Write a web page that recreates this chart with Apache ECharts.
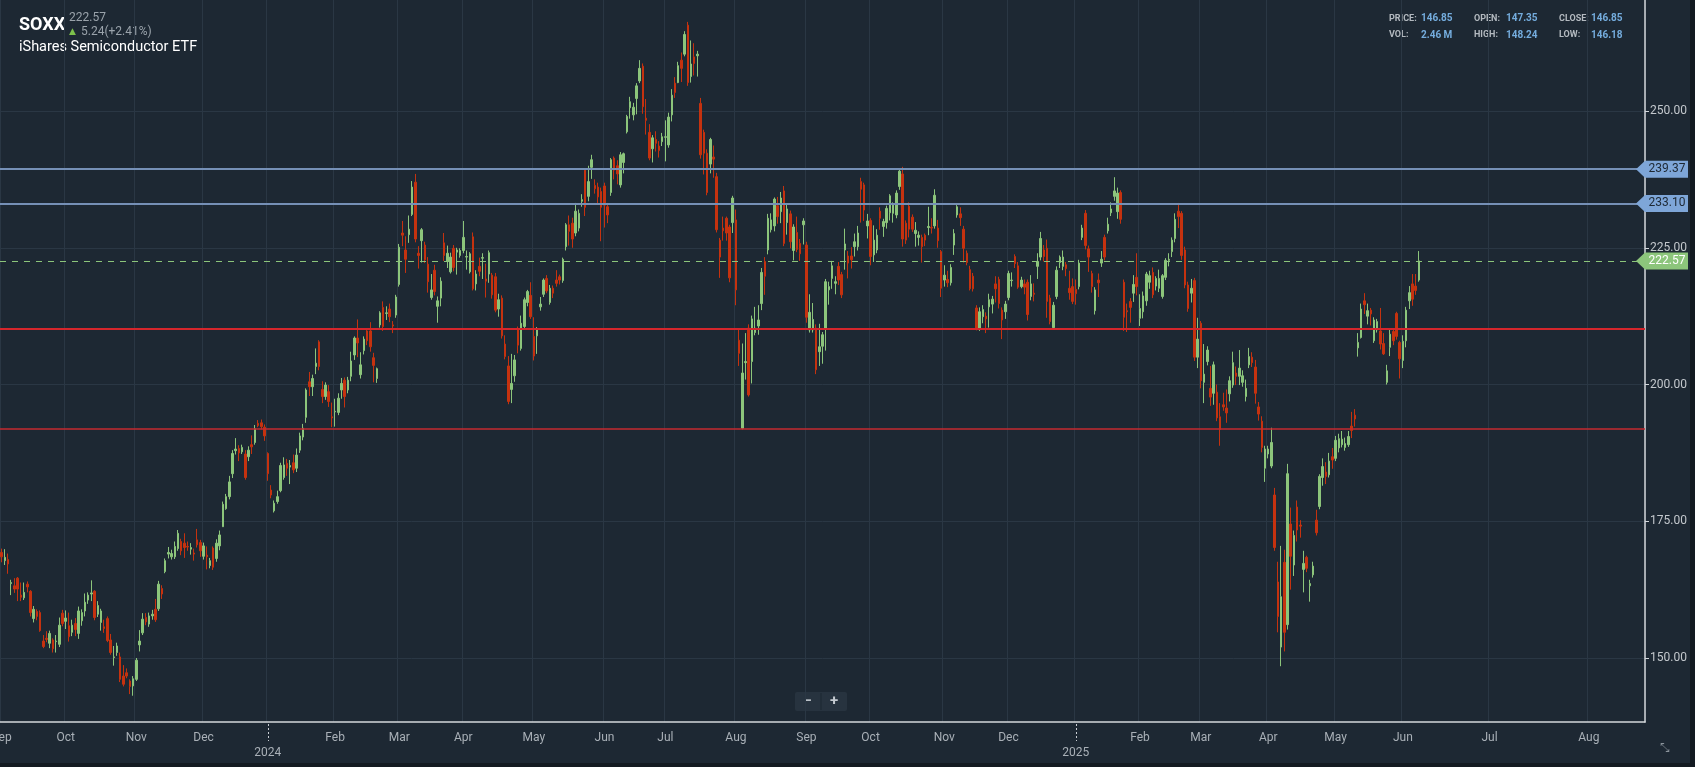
<!DOCTYPE html>
<html lang="en">

<head>
    <meta charset="UTF-8">
    <title>SOXX - iShares Semiconductor ETF</title>
    <script src="https://cdn.jsdelivr.net/npm/echarts/dist/echarts.min.js"></script>
    <style>
        html, body { margin: 0; padding: 0; background: #131a21; }
        #chart { width: 1690px; height: 763px; }
    </style>
</head>

<body>
    <div id="chart"></div>
    <script>
        // daily candles [open, close, low, high]
        const candles2023 = [
            [169.3,168.5,167.5,170.0],[167.8,168.4,167.0,169.9],[168.0,167.2,165.4,169.1],[163.6,163.8,161.5,164.3],
            [163.2,162.6,161.9,164.6],[164.6,162.6,160.4,164.8],[161.5,161.1,160.4,163.8],[161.0,162.0,160.6,163.8],
            [163.5,163.0,162.0,164.0],[162.2,158.3,157.6,162.4],[157.2,158.9,156.5,159.5],[158.5,157.6,156.9,158.9],
            [158.3,155.0,154.8,158.7],[153.1,152.1,151.8,154.2],[153.6,153.4,152.9,154.9],[152.7,154.5,151.8,155.0],
            [153.3,151.7,151.0,153.6],[153.0,153.1,151.0,154.2],[152.5,156.0,152.0,157.4],[158.2,156.3,155.8,158.8],
            [156.7,157.3,155.3,158.7],[155.9,153.9,153.0,158.3],[154.7,156.0,154.0,157.0],[156.3,155.2,154.0,157.3],
            [154.5,158.6,153.5,159.4],[156.8,158.3,155.9,158.9],[158.6,160.2,157.6,161.8],[160.6,161.5,159.9,162.0],
            [161.7,161.9,160.4,164.2],[162.2,157.4,156.9,162.4],[158.0,159.6,157.5,160.4],[156.5,158.6,155.0,159.0],
            [155.7,155.4,154.6,157.0],[157.2,153.2,152.9,157.6],[153.3,151.0,150.6,154.4],[150.1,150.2,148.6,152.2],
            [151.0,152.2,150.4,152.8],[150.2,146.1,145.6,151.0],[146.7,145.2,144.8,148.7],[147.3,146.7,146.3,148.1],
            [145.8,144.8,143.4,146.1],[144.9,146.2,143.1,146.7],[146.1,149.6,145.8,150.0],[152.4,153.1,151.2,155.1],
            [154.6,157.1,154.2,158.2],[157.4,156.6,156.0,158.2],[156.2,157.7,155.7,158.3],[157.7,158.0,157.0,158.8],
            [158.9,157.0,156.6,160.8],[159.0,163.5,158.6,164.1],[162.7,161.7,160.8,163.3],[165.8,167.8,165.5,168.2],
            [169.0,169.3,168.2,170.3],[168.5,169.1,168.0,169.8],[168.5,170.4,168.1,171.3],[170.0,172.8,169.6,173.4],
            [171.3,169.6,168.8,171.8],[171.0,170.2,168.3,172.8],[170.4,170.3,169.6,171.3],[169.9,170.2,168.9,171.0],
            [169.2,169.0,167.8,170.0],[171.6,170.7,170.2,173.6],[171.1,169.6,168.5,171.6],[168.6,170.5,168.0,171.1],
            [168.8,168.5,166.2,170.4],[166.9,167.8,166.4,168.3],[170.1,166.6,166.1,170.4],[168.2,171.0,167.6,171.7],
            [170.5,172.5,169.7,173.3],[174.0,178.1,174.0,178.6],[177.3,179.5,177.1,180.0],[179.5,182.2,179.0,183.3],
            [183.7,187.4,182.9,188.0],[187.9,188.2,187.2,190.2],[188.3,187.5,186.0,188.9],[187.7,188.5,187.3,189.0],
            [187.3,183.0,182.6,188.0],[186.8,188.0,186.0,188.7],[189.0,188.6,187.3,190.7],[189.4,191.9,189.0,192.6],
            [192.9,192.5,192.2,193.5],[193.0,192.3,191.8,193.6],[192.2,190.6,189.7,192.7]
        ];
        const candles2024 = [
            [187.4,183.7,182.4,187.6],[180.7,179.8,179.2,181.6],[176.9,178.3,176.6,178.8],[178.6,179.5,178.2,180.6],
            [180.6,185.2,180.3,185.7],[183.0,185.3,182.6,186.7],[185.6,184.7,183.3,186.4],[184.9,185.2,181.8,186.2],
            [185.7,184.4,183.8,187.2],[184.7,187.1,184.0,188.3],[188.0,190.6,187.5,191.2],[190.4,192.0,189.8,192.8],
            [194.0,199.0,193.0,199.3],[200.5,199.6,197.9,202.3],[199.6,201.1,197.9,201.8],[203.3,203.9,201.9,206.6],
            [207.8,203.3,202.6,208.1],[199.1,197.8,196.6,200.6],[197.8,199.9,197.2,200.4],[198.7,196.9,195.9,199.9],
            [194.1,193.9,192.2,196.7],[195.0,195.1,192.3,197.4],[194.9,197.5,194.4,198.4],[199.0,200.2,197.4,201.2],
            [200.8,197.8,195.8,201.3],[199.0,200.8,198.4,201.4],[201.5,204.3,200.6,206.0],[205.4,208.5,204.5,208.8],
            [208.5,207.6,205.0,211.9],[201.8,203.6,201.1,205.9],[206.2,208.3,205.5,208.8],[209.8,208.0,207.2,210.2],
            [209.8,206.9,206.0,211.4],[204.9,203.5,200.4,205.8],[201.1,202.9,200.3,203.1],[210.9,213.1,210.4,213.4],
            [214.1,210.6,209.8,215.2],[213.0,213.1,211.8,214.3],[213.8,212.4,211.4,214.8],[210.9,210.7,209.4,211.6],
            [212.7,216.0,212.2,216.4],[218.3,225.1,217.9,225.7],[227.7,227.3,225.3,229.9],[224.6,222.9,220.4,227.1],
            [227.4,228.4,225.9,230.9],[231.1,236.1,230.8,237.2],[237.0,226.6,226.0,238.5],[224.0,223.6,221.2,225.3],
            [226.3,228.3,222.3,228.6],[225.5,222.8,222.2,226.1],[222.0,218.8,216.8,223.3],[215.9,217.3,215.5,220.2],
            [220.9,217.0,216.3,221.9],[214.3,215.3,211.3,216.1],[215.8,218.9,214.3,219.6],[225.9,223.6,222.6,227.7],
            [222.5,224.0,221.3,225.4],[220.6,223.3,220.3,224.1],[224.9,221.4,220.7,225.5],[224.2,224.6,220.1,225.0],
            [223.6,224.5,223.2,224.9],[224.5,226.9,224.0,229.9],[223.3,223.4,221.0,224.5],[220.6,223.9,220.3,224.2],
            [227.0,217.5,217.2,227.8],[218.4,220.2,217.2,220.9],[221.6,220.7,219.8,223.2],[223.1,223.2,219.3,224.0],
            [219.3,218.9,215.9,222.1],[220.2,224.1,218.6,224.5],[220.0,216.4,215.7,220.4],[219.7,213.6,213.2,220.4],
            [213.8,215.5,212.4,216.6],[215.8,208.9,208.4,216.3],[207.4,205.1,204.6,209.0],[203.4,196.9,196.4,205.2],
            [199.1,200.2,196.6,205.6],[201.6,204.5,200.5,205.4],[210.1,207.2,205.7,210.6],[206.6,211.2,206.2,212.6],
            [210.6,215.5,210.0,215.9],[215.0,217.0,214.3,217.3],[216.3,212.4,212.0,218.7],[208.8,205.2,204.4,212.3],
            [208.9,210.1,205.6,210.5],[214.2,214.7,213.5,216.0],[216.5,219.1,216.0,219.4],[219.4,217.1,216.7,220.0],
            [215.0,217.6,214.6,218.2],[217.6,216.7,215.8,218.1],[219.1,218.5,217.9,220.9],[219.7,219.1,218.3,220.1],
            [219.0,222.9,218.6,223.2],[225.2,229.2,224.5,229.5],[229.2,228.0,225.4,230.9],[229.5,226.6,225.0,230.5],
            [227.7,231.7,227.1,233.2],[228.6,231.3,228.0,232.0],[233.5,233.8,232.5,234.8],[239.2,232.4,230.8,239.5],
            [234.4,237.1,233.5,240.0],[239.7,241.1,237.6,242.0],[236.4,235.8,234.9,237.5],[236.1,234.3,233.0,236.9],
            [235.3,232.4,226.2,236.0],[236.3,232.8,228.7,236.9],[232.5,231.0,229.5,233.2],[235.1,241.1,234.5,241.4],
            [241.4,239.2,237.5,241.7],[240.0,238.5,236.6,241.0],[236.5,242.0,236.0,242.5],[240.6,242.2,238.6,242.4],
            [246.2,249.0,245.9,249.3],[250.6,251.7,248.6,252.6],[249.3,250.7,248.3,251.5],[252.3,254.6,249.4,255.1],
            [255.5,257.8,255.1,259.3],[258.2,250.8,249.5,258.7],[248.7,248.3,245.7,252.2],[246.1,241.4,241.0,247.6],
            [243.1,245.1,240.6,245.6],[244.8,244.1,242.6,246.3],[243.6,242.8,241.5,244.5],[244.4,245.3,243.6,246.0],
            [245.2,245.3,240.8,248.3],[243.8,248.9,243.3,249.7],[249.3,252.9,248.1,254.0],[255.1,253.4,252.4,256.2],
            [255.2,258.3,255.1,259.0],[259.3,257.8,255.3,260.7],[260.4,264.0,260.0,264.6],[265.7,255.2,254.6,266.3],
            [256.3,258.6,255.2,262.9],[259.9,258.7,256.5,262.4],[260.1,260.4,256.3,261.0],[251.4,242.0,241.3,252.4],
            [246.1,242.3,238.4,246.6],[242.3,235.1,234.6,243.0],[240.3,244.8,238.6,245.1],[241.6,241.2,237.8,243.7],
            [238.0,228.3,227.8,238.7],[226.4,223.3,219.5,226.8],[228.6,228.1,226.3,230.7],[230.4,227.7,226.3,230.7],
            [228.8,219.5,218.7,229.2],[229.6,234.1,227.7,234.5],[230.1,217.3,214.5,232.0],[208.1,205.7,203.4,210.3],
            [192.0,202.1,191.8,207.5],[204.0,204.2,200.9,209.4],[210.3,198.1,197.8,211.0],[204.2,212.0,200.2,212.6],
            [209.5,210.3,209.0,214.2],[210.7,211.8,209.1,214.5],[214.8,220.5,213.6,221.3],[222.5,219.8,216.4,223.3],
            [224.6,230.4,223.8,231.2],[228.3,230.1,227.8,231.3],[229.0,233.9,228.0,234.2],[232.7,230.7,229.4,234.3],
            [231.6,234.1,229.5,235.2],[235.4,225.8,225.3,236.3],[229.6,232.1,227.4,233.0],[231.2,226.1,224.9,231.8],
            [224.5,228.8,222.7,229.3],[227.8,224.7,224.2,230.7],[225.8,223.9,222.6,226.6],[229.2,229.9,225.6,230.4],
            [225.5,212.3,211.3,226.1],[210.0,213.2,209.5,216.5],[210.0,211.9,209.5,214.9],[210.3,202.7,201.9,211.0],
            [206.0,206.9,203.4,211.1],[207.0,209.1,203.8,209.6],[210.3,218.8,206.2,219.3],[217.3,217.9,214.6,218.8],
            [219.4,221.7,217.5,222.6],[218.5,218.8,216.5,219.8],[221.6,219.1,218.2,222.4],[220.1,216.4,215.8,220.6],
            [224.6,225.7,221.0,228.5],[223.5,222.2,219.4,224.4],[223.5,222.8,221.2,225.1],[225.2,226.1,223.4,227.6],
            [225.2,227.7,224.5,229.0],[237.1,235.7,229.6,237.8],[236.5,231.9,229.9,236.9],[229.0,229.9,226.7,231.2],
            [230.0,223.4,221.8,230.4],[223.7,226.4,222.4,229.1],[224.6,227.3,224.0,228.4],[231.7,230.4,228.3,232.4],
            [228.9,229.8,227.0,230.3],[229.6,232.2,228.5,232.7],[231.4,234.5,230.0,234.8],[231.3,232.8,229.6,233.3],
            [231.0,235.0,230.4,235.5],[236.2,239.0,235.6,239.3],[238.5,226.6,225.2,239.8],[229.5,226.4,225.7,230.0],
            [232.6,228.4,226.9,233.3],[230.6,228.4,227.9,231.1],[227.6,228.2,225.2,229.7],[226.9,227.3,225.4,228.0],
            [226.9,225.2,222.3,227.4],[227.3,226.4,225.3,227.6],[228.7,228.9,227.3,232.5],[228.7,228.6,227.6,230.4],
            [229.0,234.6,228.5,235.7],[228.6,226.3,225.0,230.1],[224.3,217.6,216.0,224.6],[219.1,220.0,217.9,221.8],
            [219.2,218.6,217.8,220.8],[218.6,221.4,218.1,222.0],[225.5,227.6,223.7,228.4],[231.0,232.5,230.5,232.8],
            [231.2,230.5,229.0,232.4],[228.4,224.9,222.3,229.0],[224.0,222.3,221.8,224.5],[221.0,217.5,217.2,221.7],
            [219.8,217.5,217.0,220.4],[214.0,210.3,209.9,214.5],[210.3,213.3,209.8,214.1],[212.4,213.7,211.2,214.5],
            [212.5,212.0,209.4,213.2],[214.2,215.5,210.4,216.6],[214.7,215.6,213.0,216.2],[218.4,217.5,215.0,219.8],
            [219.2,214.8,213.9,219.7],[213.6,211.8,208.3,214.1],[213.3,214.7,212.0,215.3],[215.9,220.3,215.4,220.8],
            [219.0,219.1,217.9,220.5],[223.4,222.1,221.3,223.8],[221.7,217.8,217.5,222.4],[217.9,219.1,217.6,219.7],
            [218.4,217.8,216.5,219.2],[218.7,212.8,211.7,219.2],[216.1,218.4,215.4,220.0],[216.7,216.5,215.2,218.5],
            [221.6,222.5,219.3,224.0],[223.3,226.7,222.7,227.9],[224.6,223.4,222.5,225.5],[224.9,215.2,212.2,226.5],
            [215.8,211.5,211.0,216.4],[210.4,214.5,210.0,215.1],[216.1,220.9,215.6,221.6],[222.3,223.3,221.3,223.6],
            [221.6,223.3,220.9,224.5],[221.9,221.2,219.8,222.4],[217.6,216.8,215.5,220.8],[217.9,215.2,214.7,219.4]
        ];
        const candles2025 = [
            [217.4,216.6,214.6,219.2],[217.9,222.2,217.4,222.8],[226.9,228.6,226.4,229.2],[231.3,225.4,224.7,231.9],
            [224.8,223.3,220.6,225.4],[220.3,217.9,216.8,220.8],[213.5,217.3,212.8,217.8],[219.1,218.6,216.0,220.3],
            [222.2,222.9,221.5,224.4],[226.9,223.3,222.7,227.4],[228.1,229.3,227.6,230.5],[231.4,232.1,230.8,233.3],
            [234.4,235.4,233.6,237.9],[231.6,235.0,230.3,236.0],[235.1,230.2,229.4,235.5],[218.7,212.3,209.8,219.2],
            [213.5,213.3,209.6,214.8],[215.2,214.1,211.3,215.8],[216.7,218.3,215.1,220.0],[219.6,217.9,216.3,224.0],
            [212.1,213.9,210.7,216.5],[213.3,216.2,212.1,217.0],[215.3,220.2,214.4,220.6],[218.7,219.9,217.5,220.8],
            [220.5,216.4,215.8,221.4],[218.0,219.4,217.2,219.8],[217.6,219.4,216.9,221.0],[216.1,219.9,215.7,220.2],
            [219.6,222.7,219.1,223.1],[222.7,222.9,221.6,224.0],[224.3,226.4,223.3,226.9],[226.7,230.2,226.0,231.3],
            [231.7,230.7,228.6,233.2],[231.3,223.6,222.8,231.7],[224.6,218.2,217.6,225.2],[218.2,213.9,213.3,218.8],
            [216.7,217.6,215.0,219.3],[219.0,205.0,204.3,219.5],[205.0,208.3,203.0,212.2],[211.2,200.7,199.3,211.6],
            [200.4,201.9,196.6,207.4],[204.2,206.3,203.5,207.0],[199.3,197.7,196.1,203.4],[198.4,203.6,196.3,204.2],
            [198.6,193.9,193.3,200.0],[194.1,191.8,188.8,196.6],[196.3,195.9,195.2,198.5],[195.7,194.8,193.0,199.1],
            [198.3,200.7,196.9,201.5],[199.9,204.0,199.4,206.0],[202.1,201.5,199.9,203.3],[201.5,203.0,199.9,206.3],
            [200.4,201.6,199.6,202.6],[197.8,199.3,196.9,200.9],[203.6,205.1,203.0,206.7],[205.0,204.0,203.2,205.9],
            [203.2,198.4,196.5,204.5],[195.9,194.6,193.4,196.8],[193.3,188.5,187.6,194.2],[184.7,188.2,182.2,188.8],
            [187.3,188.2,186.5,188.8],[185.1,189.4,184.7,192.1],[179.8,170.2,169.6,181.1],[163.9,157.6,154.7,167.6],
            [152.0,161.2,148.5,170.5],[167.5,154.7,151.2,169.8],[156.1,183.7,155.2,185.5],[174.5,168.6,162.5,177.5],
            [167.0,172.4,165.0,173.3],[177.6,173.4,171.3,178.8],[174.3,174.1,172.0,175.2],[166.2,167.3,162.0,169.6],
            [168.4,166.4,165.7,168.7],[163.2,163.6,160.3,164.3],[165.2,166.8,164.7,167.6],[175.2,172.9,172.4,177.1],
            [177.7,183.2,177.2,183.6],[183.0,185.0,181.5,186.5],[184.0,183.2,181.8,185.8],[183.5,186.0,183.0,187.5],
            [186.8,186.2,184.6,188.4],[186.5,189.8,186.0,190.6],[188.4,190.1,187.6,191.0],[189.0,190.0,188.5,191.5],
            [188.5,189.2,187.9,190.3],[189.0,190.5,188.6,191.5],[192.4,191.6,190.2,195.0],[194.4,193.7,192.3,195.5],
            [206.7,207.7,205.1,209.4],[208.6,213.8,208.4,214.8],[215.3,214.6,212.9,216.7],[212.5,213.5,211.0,214.8],
            [213.6,212.9,210.8,214.0],[208.0,211.8,207.6,212.3],[210.0,211.5,209.5,212.0],[209.8,207.4,206.4,214.0],
            [207.5,205.6,205.4,209.4],[200.4,202.5,200.0,203.6],[206.8,209.2,205.2,210.0],[209.7,208.0,207.2,210.1],
            [213.0,208.8,208.2,213.3],[207.7,204.7,201.1,208.0],[204.4,207.9,203.0,209.0],[208.0,213.6,206.8,214.2],
            [215.3,216.8,213.8,218.0],[218.4,215.6,214.4,220.2],[218.0,217.2,216.4,220.2],[219.1,222.6,218.8,224.4]
        ];

        // drawn levels
        const resistanceLevels = [239.37, 233.10];
        const lastPrice = 222.57;
        const supportLevels = [210.2, 191.9];
        // trend line ends: [category index, price]
        const trendStart = [193, 270.34];
        const trendEnd = [512, 203.7];

        const yTicks = [150, 175, 200, 225, 250];
        const monthNames = ['Jan', 'Feb', 'Mar', 'Apr', 'May', 'Jun', 'Jul', 'Aug', 'Sep', 'Oct', 'Nov', 'Dec'];
        const holidays = ['2023-09-04', '2023-11-23', '2023-12-25', '2024-01-01', '2024-01-15', '2024-02-19',
            '2024-03-29', '2024-05-27', '2024-06-19', '2024-07-04', '2024-09-02', '2024-11-28', '2024-12-25',
            '2025-01-01', '2025-01-09', '2025-01-20', '2025-02-17', '2025-04-18', '2025-05-26'];
        const firstDay = '2023-09-01';
        const lastCandleDay = '2025-06-09';
        const axisEndDay = '2025-08-18';

        // trading days while there are candles, calendar days after that
        const dates = [];
        const day = new Date(firstDay + 'T00:00:00Z');
        const stop = new Date(axisEndDay + 'T00:00:00Z');
        while (day <= stop) {
            const s = day.toISOString().slice(0, 10);
            const wd = day.getUTCDay();
            if (s > lastCandleDay || (wd !== 0 && wd !== 6 && !holidays.includes(s))) dates.push(s);
            day.setUTCDate(day.getUTCDate() + 1);
        }
        const monthStarts = new Set();
        dates.forEach((s, i) => {
            if (i === 0 || s.slice(0, 7) !== dates[i - 1].slice(0, 7)) monthStarts.add(i);
        });
        const isMonthStart = (index) => monthStarts.has(index);

        const candles = [...candles2023, ...candles2024, ...candles2025];

        const chart = echarts.init(document.getElementById('chart'));
        const gridRight = 45;

        const option = {
            backgroundColor: '#1d2833',
            animation: false,
            textStyle: { fontFamily: 'Roboto' },
            grid: { left: 0, right: gridRight, top: 0, bottom: 41, containLabel: false, outerBoundsMode: 'none' },
            xAxis: {
                type: 'category',
                data: dates,
                axisLine: { lineStyle: { color: '#d3d7db', width: 1.5 } },
                axisTick: { interval: isMonthStart, alignWithLabel: true, length: 5, lineStyle: { color: '#d3d7db' } },
                axisLabel: {
                    interval: isMonthStart,
                    color: '#a9b0b7',
                    fontSize: 12,
                    lineHeight: 15,
                    margin: 8,
                    formatter: (value) => {
                        const m = +value.slice(5, 7);
                        return m === 1 ? '\n' + value.slice(0, 4) : monthNames[m - 1];
                    }
                },
                splitLine: { show: true, interval: isMonthStart, lineStyle: { color: '#2a3744' } }
            },
            yAxis: {
                type: 'value',
                position: 'right',
                min: 138.3,
                max: 270.3,
                axisLine: { show: true, lineStyle: { color: '#d3d7db', width: 1.5 } },
                axisTick: { show: true, length: 4, customValues: yTicks, lineStyle: { color: '#d3d7db' } },
                axisLabel: { customValues: yTicks, color: '#c3c8cd', fontSize: 12, margin: 5, formatter: v => v.toFixed(2) },
                splitLine: { show: true, lineStyle: { color: '#2a3744' } }
            },
            series: [
                {
                    type: 'candlestick',
                    data: candles,
                    barWidth: 2,
                    large: false,
                    itemStyle: {
                        color: '#8cc57b', color0: '#c5320f',
                        borderColor: '#8cc57b', borderColor0: '#c5320f', borderWidth: 1
                    },
                    markLine: {
                        symbol: ['none', 'none'],
                        silent: true,
                        animation: false,
                        label: { show: false },
                        data: [
                            { yAxis: resistanceLevels[0], lineStyle: { color: '#7590b6', width: 2, type: 'solid' } },
                            { yAxis: resistanceLevels[1], lineStyle: { color: '#7590b6', width: 2, type: 'solid' } },
                            { yAxis: lastPrice, lineStyle: { color: '#8cc57b', width: 1, type: [6, 6] } },
                            { yAxis: supportLevels[0], lineStyle: { color: '#d4262c', width: 2, type: 'solid' } },
                            { yAxis: supportLevels[1], lineStyle: { color: '#c52a30', width: 1.5, type: 'solid' } },
                            [
                                { coord: trendStart, lineStyle: { color: '#e8dfa0', width: 1.5, type: 'solid' } },
                                { coord: trendEnd }
                            ]
                        ]
                    }
                }
            ],
            graphic: [
                { type: 'text', x: 19, y: 25, style: { text: 'SOXX', fill: '#ffffff', font: 'bold 18px Roboto', verticalAlign: 'middle' } },
                { type: 'text', x: 69, y: 17.5, style: { text: '222.57', fill: '#9aa3ab', font: '12px Roboto', verticalAlign: 'middle' } },
                { type: 'text', x: 69, y: 31.5, style: { text: '▲', fill: '#7cc04b', font: '9px "DejaVu Sans"', verticalAlign: 'middle' } },
                { type: 'text', x: 81, y: 31.5, style: { text: '5.24(+2.41%)', fill: '#9aa3ab', font: '12px Roboto', verticalAlign: 'middle' } },
                { type: 'text', x: 19, y: 47.5, style: { text: 'iShares Semiconductor ETF', fill: '#ffffff', font: '14.5px Roboto', verticalAlign: 'middle' } },

                { type: 'text', x: 1389, y: 18.5, style: { text: 'PRICE:', fill: '#b4bac0', font: 'bold 9px Roboto', verticalAlign: 'middle' } },
                { type: 'text', x: 1421, y: 18.5, style: { text: '146.85', fill: '#74acdd', font: 'bold 10px Roboto', verticalAlign: 'middle' } },
                { type: 'text', x: 1474, y: 18.5, style: { text: 'OPEN:', fill: '#b4bac0', font: 'bold 9px Roboto', verticalAlign: 'middle' } },
                { type: 'text', x: 1506, y: 18.5, style: { text: '147.35', fill: '#74acdd', font: 'bold 10px Roboto', verticalAlign: 'middle' } },
                { type: 'text', x: 1559, y: 18.5, style: { text: 'CLOSE:', fill: '#b4bac0', font: 'bold 9px Roboto', verticalAlign: 'middle' } },
                { type: 'text', x: 1591, y: 18.5, style: { text: '146.85', fill: '#74acdd', font: 'bold 10px Roboto', verticalAlign: 'middle' } },
                { type: 'text', x: 1389, y: 35, style: { text: 'VOL:', fill: '#b4bac0', font: 'bold 9px Roboto', verticalAlign: 'middle' } },
                { type: 'text', x: 1421, y: 35, style: { text: '2.46 M', fill: '#74acdd', font: 'bold 10px Roboto', verticalAlign: 'middle' } },
                { type: 'text', x: 1474, y: 35, style: { text: 'HIGH:', fill: '#b4bac0', font: 'bold 9px Roboto', verticalAlign: 'middle' } },
                { type: 'text', x: 1506, y: 35, style: { text: '148.24', fill: '#74acdd', font: 'bold 10px Roboto', verticalAlign: 'middle' } },
                { type: 'text', x: 1559, y: 35, style: { text: 'LOW:', fill: '#b4bac0', font: 'bold 9px Roboto', verticalAlign: 'middle' } },
                { type: 'text', x: 1591, y: 35, style: { text: '146.18', fill: '#74acdd', font: 'bold 10px Roboto', verticalAlign: 'middle' } },

                // zoom buttons
                { type: 'rect', shape: { x: 795, y: 692, width: 52, height: 19, r: 2 }, style: { fill: '#27333f' } },
                { type: 'line', shape: { x1: 821, y1: 693, x2: 821, y2: 710 }, style: { stroke: '#1d2833', lineWidth: 1 } },
                { type: 'text', x: 808, y: 701.5, style: { text: '−', fill: '#c3c9cf', font: 'bold 14px Roboto', align: 'center', verticalAlign: 'middle' } },
                { type: 'text', x: 834, y: 701.5, style: { text: '+', fill: '#c3c9cf', font: 'bold 15px Roboto', align: 'center', verticalAlign: 'middle' } },
                { type: 'text', x: 1665, y: 749, style: { text: '⤡', fill: '#8a939b', font: '12px "DejaVu Sans"', align: 'center', verticalAlign: 'middle' } }
            ]
        };

        chart.setOption(option);

        // price tags on the right axis and dotted year ticks, placed through the axes
        const axisX = chart.getWidth() - gridRight;
        const axisY = chart.getHeight() - 41;
        const tags = [
            { value: resistanceLevels[0], bg: '#7ea6d8', fg: '#1d2833' },
            { value: resistanceLevels[1], bg: '#7ea6d8', fg: '#1d2833' },
            { value: lastPrice, bg: '#8cc57b', fg: '#ffffff' }
        ];
        const extra = [];
        tags.forEach(t => {
            const y = chart.convertToPixel({ yAxisIndex: 0 }, t.value);
            extra.push({
                type: 'polygon', z: 100,
                shape: { points: [[axisX - 9, y], [axisX, y - 8.5], [axisX + 43, y - 8.5], [axisX + 43, y + 8.5], [axisX, y + 8.5]] },
                style: { fill: t.bg }
            });
            extra.push({
                type: 'text', z: 101, x: axisX + 22, y: y,
                style: { text: t.value.toFixed(2), fill: t.fg, font: '12px Roboto', align: 'center', verticalAlign: 'middle' }
            });
        });
        monthStarts.forEach(i => {
            if (dates[i].slice(5, 7) !== '01') return;
            const x = Math.round(chart.convertToPixel({ xAxisIndex: 0 }, i)) + 0.5;
            extra.push({
                type: 'line', z: 50,
                shape: { x1: x, y1: axisY + 2, x2: x, y2: axisY + 19 },
                style: { stroke: '#c9ced3', lineWidth: 1, lineDash: [2, 2] }
            });
        });
        chart.setOption({ graphic: option.graphic.concat(extra) });
    </script>
</body>

</html>
